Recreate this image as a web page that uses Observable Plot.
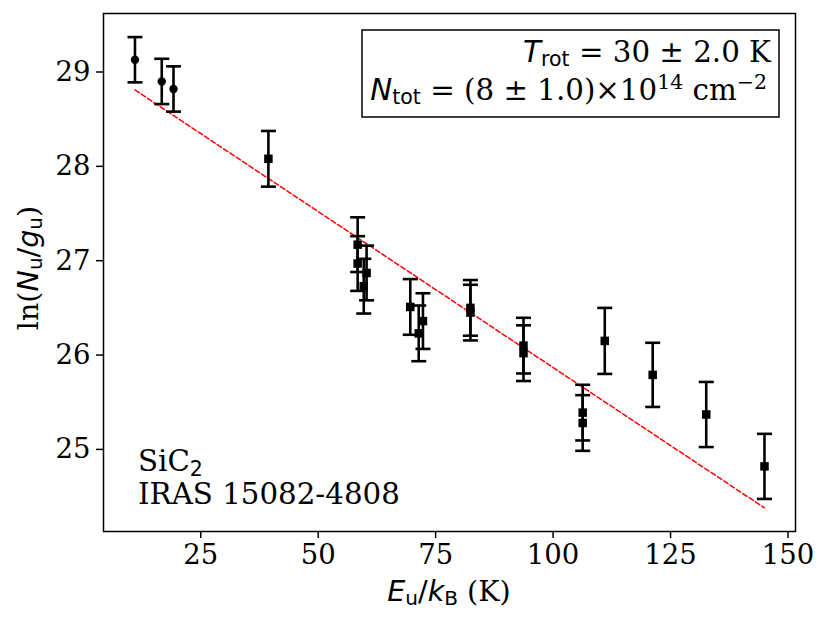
<!DOCTYPE html>
<html><head><meta charset="utf-8">
<script src="https://cdn.jsdelivr.net/npm/d3@7"></script>
<script src="https://cdn.jsdelivr.net/npm/@observablehq/plot@0.6"></script>
<style>html,body{margin:0;padding:0;background:#fff}</style>
</head><body><div id="chart"></div>
<script>
// Circle markers (first three transitions)
const circE   = [11.0, 16.7, 19.2];
const circLnN = [29.13, 28.90, 28.82];
const circErr = [0.24, 0.24, 0.24];
// Square markers
const sqE   = [39.4, 58.4, 58.4, 60.3, 59.7, 69.6, 71.4, 72.3, 82.4, 82.4, 93.7, 93.7, 106.3, 106.3, 111.0, 121.2, 132.6, 145.0];
const sqLnN = [28.08, 27.17, 26.97, 26.87, 26.73, 26.51, 26.23, 26.36, 26.50, 26.45, 26.10, 26.02, 25.39, 25.28, 26.15, 25.79, 25.37, 24.82];
const sqErr = [0.295, 0.29, 0.29, 0.29, 0.29, 0.295, 0.295, 0.295, 0.295, 0.295, 0.295, 0.295, 0.295, 0.295, 0.35, 0.34, 0.345, 0.345];
// Rotational-diagram fit
const fitE   = [11.0, 145.0];
const fitLnN = [28.81, 24.38];
// Axes
const xTicks = [25, 50, 75, 100, 125, 150];
const yTicks = [25, 26, 27, 28, 29];
const xDomain = [4.3, 151.6];
const yDomain = [24.13, 29.62];

const circles = circE.map((e, i) => ({E: e, v: circLnN[i], lo: circLnN[i] - circErr[i], hi: circLnN[i] + circErr[i]}));
const squares = sqE.map((e, i) => ({E: e, v: sqLnN[i], lo: sqLnN[i] - sqErr[i], hi: sqLnN[i] + sqErr[i]}));
const all = circles.concat(squares);
const fit = fitE.map((e, i) => ({E: e, v: fitLnN[i]}));

const capSymbol = {draw(ctx) { ctx.moveTo(-7.5, 0); ctx.lineTo(7.5, 0); }};
const FS = 27.5;   // tick labels
const LS = 28.6;   // axis labels
const AS = 29.3;   // annotations

const svg = Plot.plot({
  width: 831, height: 623,
  marginLeft: 103, marginRight: 36, marginTop: 13, marginBottom: 92,
  style: {fontFamily: "DejaVu Serif", fontSize: FS + "px", color: "black", background: "white"},
  x: {domain: xDomain, label: null},
  y: {domain: yDomain, label: null},
  marks: [
    Plot.axisX(xTicks, {tickSize: 7, tickPadding: 6, strokeWidth: 1.5, fontSize: FS, label: null, tickFormat: d3.format("d")}),
    Plot.axisY(yTicks, {tickSize: 7, tickPadding: 6, strokeWidth: 1.5, fontSize: FS, label: null, tickFormat: d3.format("d")}),
    Plot.line(fit, {x: "E", y: "v", stroke: "red", strokeWidth: 1.5, strokeDasharray: "5,2.6"}),
    Plot.ruleX(all, {x: "E", y1: "lo", y2: "hi", stroke: "black", strokeWidth: 2.6}),
    Plot.dot(all, {x: "E", y: "lo", symbol: capSymbol, stroke: "black", strokeWidth: 2.6, fill: "none"}),
    Plot.dot(all, {x: "E", y: "hi", symbol: capSymbol, stroke: "black", strokeWidth: 2.6, fill: "none"}),
    Plot.dot(circles, {x: "E", y: "v", r: 4.2, fill: "black", stroke: "none"}),
    Plot.dot(squares, {x: "E", y: "v", symbol: "square", r: 4.8, fill: "black", stroke: "none"}),
    Plot.frame({stroke: "black", strokeWidth: 1.5})
  ]
});
document.getElementById("chart").appendChild(svg);

function rich(g, {x, y, anchor = "start", size = FS, rotate = 0}, parts) {
  const t = g.append("text").attr("x", x).attr("y", y)
    .attr("text-anchor", anchor).attr("font-size", size).attr("fill", "black");
  if (rotate) t.attr("transform", `rotate(${rotate},${x},${y})`);
  let shift = 0;
  for (const p of parts) {
    const s = p.shift || 0;
    t.append("tspan").text(p.t)
      .attr("font-family", p.sans ? "DejaVu Sans" : "DejaVu Serif")
      .attr("font-style", p.it ? "italic" : "normal")
      .attr("font-size", p.small ? size * 0.7 : size)
      .attr("dy", s - shift);
    shift = s;
  }
  return t;
}

const g = d3.select(svg).append("g");
// x label
rich(g, {x: 449, y: 601, anchor: "middle", size: LS}, [
  {t: "E", sans: true, it: true}, {t: "u", sans: true, small: true, shift: 4},
  {t: "/", sans: true}, {t: "k", sans: true, it: true}, {t: "B", sans: true, small: true, shift: 4},
  {t: " (K)"}
]);
// y label
rich(g, {x: 38, y: 268, anchor: "middle", rotate: -90, size: LS}, [
  {t: "ln("}, {t: "N", sans: true, it: true}, {t: "u", sans: true, small: true, shift: 4},
  {t: "/", sans: true}, {t: "g", sans: true, it: true}, {t: "u", sans: true, small: true, shift: 4},
  {t: ")"}
]);
// annotation box
g.append("rect").attr("x", 362).attr("y", 30).attr("width", 417).attr("height", 87)
  .attr("fill", "white").attr("stroke", "black").attr("stroke-width", 1.5);
rich(g, {x: 771, y: 62, anchor: "end", size: AS}, [
  {t: "T", sans: true, it: true}, {t: "rot", sans: true, small: true, shift: 4},
  {t: " = 30 ± 2.0 K"}
]);
rich(g, {x: 767, y: 100, anchor: "end", size: AS}, [
  {t: "N", sans: true, it: true}, {t: "tot", sans: true, small: true, shift: 4},
  {t: " = (8 ± 1.0)×10"}, {t: "14", small: true, shift: -11},
  {t: " cm"}, {t: "−2", small: true, shift: -11}
]);
// source labels
rich(g, {x: 138, y: 471, size: AS}, [{t: "SiC"}, {t: "2", sans: true, small: true, shift: 5}]);
rich(g, {x: 138, y: 504, size: AS}, [{t: "IRAS 15082-4808"}]);
</script>
</body></html>
